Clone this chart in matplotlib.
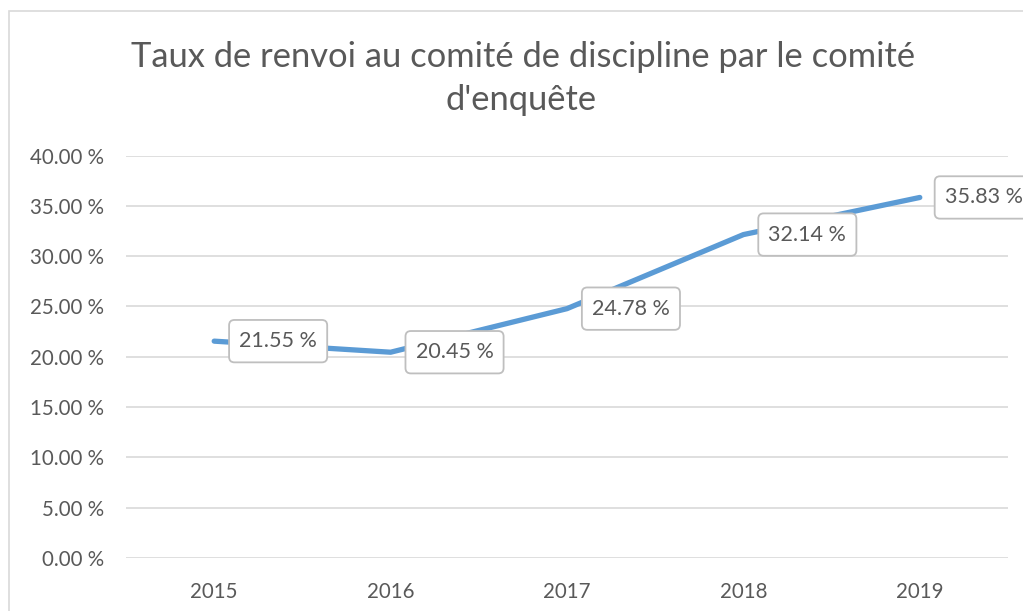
import matplotlib
matplotlib.use("Agg")
import matplotlib.pyplot as plt
from matplotlib.patches import Rectangle, BoxStyle
from matplotlib.ticker import FuncFormatter

years = ["2015", "2016", "2017", "2018", "2019"]
rates = [21.55, 20.45, 24.78, 32.14, 35.83]
yticks = [0, 5, 10, 15, 20, 25, 30, 35, 40]
title_lines = ["Taux de renvoi au comité de discipline par le comité", "d'enquête"]

plt.rcParams['font.family'] = ['Lato', 'DejaVu Sans']
W, H = 1023, 611
fig = plt.figure(figsize=(W / 100, H / 100), dpi=100)
fig.patch.set_facecolor('white')

# outer chart border
fig.add_artist(Rectangle((9 / W, -0.1), 1.2, 1 - 11 / H + 0.1, transform=fig.transFigure,
                         fill=False, ec='#D9D9D9', lw=1.2))

left, right = 126 / W, 1008 / W
bottom, top = 1 - 558 / H, 1 - 155.5 / H
ax = fig.add_axes([left, bottom, right - left, top - bottom])
ax.set_xlim(-0.5, len(years) - 0.5)
ax.set_ylim(0, 40)

x = list(range(len(years)))
ax.plot(x, rates, color='#5B9BD5', lw=3.8, solid_capstyle='round', solid_joinstyle='round', zorder=3)

ax.set_yticks(yticks)
ax.yaxis.set_major_formatter(FuncFormatter(lambda v, p: f"{v:.2f} %"))
ax.set_xticks(x)
ax.set_xticklabels(years)
ax.grid(axis='y', color='#D9D9D9', lw=1.2)
ax.set_axisbelow(True)
for s in ax.spines.values():
    s.set_visible(False)
ax.tick_params(axis='both', length=0, colors='#595959', labelsize=14.8)
ax.tick_params(axis='y', pad=16)
ax.tick_params(axis='x', pad=17)

_round = BoxStyle.Round(pad=0, rounding_size=0.25)


def label_box(x0, y0, width, height, mutation_size):
    px = 0.47 * mutation_size
    py = 0.52 * mutation_size
    return _round(x0 - px, y0 - py, width + 2 * px, height + 2 * py, mutation_size)


for xi, v in zip(x, rates):
    ax.annotate(f"{v:.2f} %", (xi, v), xytext=(18, 0), textcoords='offset points',
                ha='left', va='center', fontsize=15.5, color='#595959', zorder=5,
                bbox=dict(boxstyle=label_box, fc='white', ec='#BFBFBF', lw=1.3),
                annotation_clip=False)

fig.text(523 / W, 1 - 67 / H, title_lines[0], ha='center', va='baseline', fontsize=24.8, color='#595959')
fig.text(521 / W, 1 - 110 / H, title_lines[1], ha='center', va='baseline', fontsize=24.8, color='#595959')

fig.savefig('out.png', dpi=100)
